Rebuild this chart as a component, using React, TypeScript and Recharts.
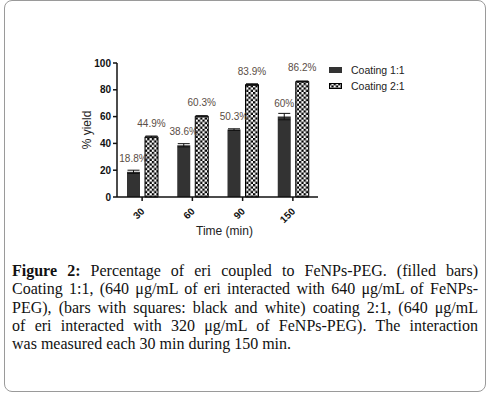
import React from "react";
import { BarChart, Bar, XAxis, YAxis, LabelList, ErrorBar } from "recharts";

const times = ["30", "60", "90", "150"];
const coating11 = [18.8, 38.6, 50.3, 60];
const coating11Err = [1.2, 1.2, 0.6, 2.4];
const coating21 = [44.9, 60.3, 83.9, 86.2];
const coating21Err = [0.6, 0.4, 0.6, 0.4];
const yTicks = [0, 20, 40, 60, 80, 100];

const captionLines = [
  "Percentage of eri coupled to FeNPs-PEG. (filled bars)",
  "Coating 1:1, (640 μg/mL of eri interacted with 640 μg/mL of FeNPs-",
  "PEG), (bars with squares: black and white) coating 2:1, (640 μg/mL",
  "of eri interacted with 320 μg/mL of FeNPs-PEG). The interaction",
  "was measured each 30 min during 150 min.",
];

const rows = times.map((t, i) => ({
  time: t,
  c11: coating11[i],
  c11Err: coating11Err[i],
  c21: coating21[i],
  c21Err: coating21Err[i],
}));

const font = "'Liberation Sans', Arial, sans-serif";

const TimeTick = (props: any) => {
  const { x, y, payload } = props;
  const tx = x + 3;
  const ty = y + 9;
  return (
    <text
      x={tx}
      y={ty}
      textAnchor="end"
      fontSize={10}
      fontWeight="bold"
      fontFamily={font}
      fill="#111"
      transform={`rotate(-45 ${tx} ${ty})`}
    >
      {payload.value}
    </text>
  );
};

const App: React.FC = () => {
  return (
    <div
      style={{
        position: "absolute",
        left: 0,
        top: 0,
        width: 494,
        height: 395,
        background: "#fff",
      }}
    >
      <svg width={0} height={0} style={{ position: "absolute" }}>
        <defs>
          <pattern id="checker" width={4.6} height={4.6} patternUnits="userSpaceOnUse">
            <rect width={4.6} height={4.6} fill="#fff" />
            <rect width={2.3} height={2.3} fill="#000" />
            <rect x={2.3} y={2.3} width={2.3} height={2.3} fill="#000" />
          </pattern>
        </defs>
      </svg>
      <div
        style={{
          position: "absolute",
          left: 4,
          top: 0,
          width: 480,
          height: 390,
          border: "1.5px solid #9a9a9a",
          borderRadius: 8,
        }}
      />
      <div style={{ position: "absolute", left: 0, top: 0 }}>
        <BarChart
          width={494}
          height={240}
          data={rows}
          margin={{ top: 63, right: 176, bottom: 17, left: 77 }}
          barSize={13}
          barGap={5}
        >
          <XAxis
            dataKey="time"
            height={26}
            tick={<TimeTick />}
            tickLine={{ stroke: "#111", strokeWidth: 1.5 }}
            tickSize={4}
            axisLine={{ stroke: "#111", strokeWidth: 1.5 }}
            interval={0}
            label={{
              value: "Time (min)",
              position: "bottom",
              offset: 3,
              dx: 7,
              fontSize: 12,
              fontFamily: font,
              fill: "#222",
            }}
          />
          <YAxis
            width={40}
            domain={[0, 100]}
            ticks={yTicks}
            tickSize={4}
            tick={{ fontSize: 10, fontWeight: "bold", fontFamily: font, fill: "#111" }}
            tickLine={{ stroke: "#111", strokeWidth: 1.5 }}
            axisLine={{ stroke: "#111", strokeWidth: 1.5 }}
            label={{
              value: "% yield",
              angle: -90,
              position: "center",
              dx: -10,
              fontSize: 12,
              fontFamily: font,
              fill: "#222",
            }}
          />
          <Bar dataKey="c11" fill="#333" isAnimationActive={false}>
            <ErrorBar dataKey="c11Err" width={6} stroke="#111" strokeWidth={1} direction="y" />
            <LabelList
              dataKey="c11"
              position="top"
              offset={10}
              formatter={(v: any) => `${v}%`}
              style={{ fontSize: 10, fontFamily: font, fill: "#5a4d45" }}
            />
          </Bar>
          <Bar
            dataKey="c21"
            fill="url(#checker)"
            stroke="#000"
            strokeWidth={1}
            isAnimationActive={false}
          >
            <ErrorBar dataKey="c21Err" width={6} stroke="#111" strokeWidth={1} direction="y" />
            <LabelList
              dataKey="c21"
              position="top"
              offset={10}
              formatter={(v: any) => `${v}%`}
              style={{ fontSize: 10, fontFamily: font, fill: "#5a4d45" }}
            />
          </Bar>
        </BarChart>
      </div>
      <div
        style={{
          position: "absolute",
          left: 329,
          top: 62,
          fontFamily: font,
          fontSize: 10.5,
          color: "#222",
        }}
      >
        <div style={{ display: "flex", alignItems: "center", height: 16 }}>
          <span style={{ width: 13, height: 6, background: "#333", marginRight: 9 }} />
          Coating 1:1
        </div>
        <div style={{ display: "flex", alignItems: "center", height: 16 }}>
          <svg width={13} height={6} style={{ marginRight: 9 }}>
            <rect x={0.5} y={0.5} width={12} height={5} fill="url(#checker)" stroke="#000" strokeWidth={1} />
          </svg>
          Coating 2:1
        </div>
      </div>
      <div
        style={{
          position: "absolute",
          left: 12,
          top: 262,
          width: 466,
          fontFamily: "'Liberation Serif', 'DejaVu Serif', serif",
          fontSize: 16,
          lineHeight: "18.3px",
          color: "#111",
        }}
      >
        {captionLines.map((line, i) => (
          <div
            key={i}
            style={{
              textAlign: "justify",
              textAlignLast: i < captionLines.length - 1 ? "justify" : "left",
              whiteSpace: "nowrap",
            }}
          >
            {i === 0 && <b>Figure 2: </b>}
            {line}
          </div>
        ))}
      </div>
    </div>
  );
};

export default App;
